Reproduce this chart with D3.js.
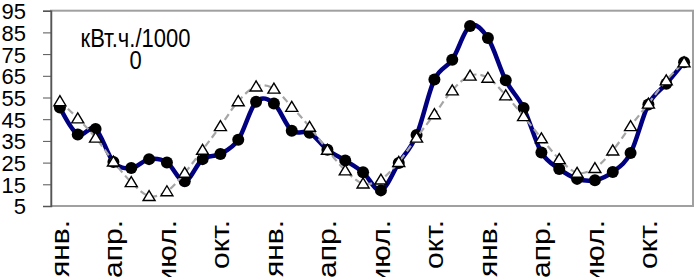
<!DOCTYPE html>
<html>
<head>
<meta charset="utf-8">
<script src="https://cdn.jsdelivr.net/npm/d3@7"></script>
<style>
  body { margin: 0; background: #fff; }
  svg { display: block; }
  text { font-family: "Liberation Sans", Arial, sans-serif; fill: #000; }
</style>
</head>
<body>
<svg id="chart" width="696" height="277"></svg>
<script>
// month categories, 3 years
const monthNames = ['янв.','фев.','мар.','апр.','май','июн.','июл.','авг.','сен.','окт.','ноя.','дек.'];
const categories = [].concat(monthNames, monthNames, monthNames);

// actual consumption (circles)
const actual = [50.4, 38, 40.5, 25.3, 22.5, 26.6, 25.1, 16.4, 26.6, 29, 35.5, 53,
                52.2, 39.7, 38.8, 30.9, 26, 20.5, 12.2, 24.8, 37.7, 63.3, 72.4, 88,
                82.4, 62.9, 50.2, 29.7, 22.1, 17.5, 16.9, 20.7, 29.4, 51.8, 61.3, 71.2];

// model (triangles)
const model = [53.3, 45.4, 36.5, 25.5, 16, 9.6, 11.8, 20.3, 30.9, 41.8, 53.3, 60.1,
               59.1, 50.7, 41.5, 30.9, 21.4, 15.4, 17.2, 25.3, 36.5, 47.3, 58.3, 65.1,
               64.1, 56, 46.4, 36.2, 26.6, 20.3, 22.5, 30.6, 41.8, 52.2, 62.9, 71.2];

const yTicks = [5, 15, 25, 35, 45, 55, 65, 75, 85, 95];
const unitLines = ['кВт.ч./1000', '0'];

const plotL = 51, plotR = 693, plotT = 10.7, plotB = 206;
const svg = d3.select('#chart');

const x = d3.scaleBand().domain(d3.range(categories.length)).range([plotL, plotR]);
const cx = i => x(i) + x.bandwidth() / 2;
const y = d3.scaleLinear().domain([5, 95]).range([plotB, plotT]);

// plot area border
svg.append('rect')
  .attr('x', plotL).attr('y', plotT)
  .attr('width', plotR - plotL).attr('height', plotB - plotT)
  .attr('fill', 'none').attr('stroke', '#a0a0a0').attr('stroke-width', 2);

// y axis
const yAxis = svg.append('g')
  .attr('transform', `translate(${plotL},0)`)
  .call(d3.axisLeft(y).tickValues(yTicks).tickSize(8).tickPadding(17));
yAxis.select('.domain').attr('stroke', '#555').attr('stroke-width', 1.5);
yAxis.selectAll('.tick line').attr('stroke', '#555');
yAxis.selectAll('.tick text')
  .style('font-size', '22px')
  .attr('dy', '0.36em');

// x labels every 3 months (picture is stretched a bit vertically)
svg.append('g').selectAll('text')
  .data(categories.map((c, i) => ({c, i})).filter(d => d.i % 3 === 0))
  .join('text')
  .attr('transform', d => `translate(${cx(d.i)},220) rotate(-90) scale(1.2,1)`)
  .attr('text-anchor', 'end')
  .attr('dy', '0.36em')
  .style('font-size', '25px')
  .text(d => d.c);

// unit text
svg.append('g').selectAll('text')
  .data(unitLines)
  .join('text')
  .attr('transform', (d, i) => `translate(135.5,${46.5 + i * 22}) scale(1,1.15)`)
  .attr('text-anchor', 'middle')
  .style('font-size', '22px')
  .text(d => d);

const line = d3.line()
  .x((d, i) => cx(i))
  .y(d => y(d))
  .curve(d3.curveCardinal.tension(0));

// actual series
svg.append('path')
  .datum(actual)
  .attr('d', line)
  .attr('fill', 'none')
  .attr('stroke', '#000080')
  .attr('stroke-width', 4.5)
  .attr('stroke-linejoin', 'round');

svg.append('g').selectAll('circle')
  .data(actual)
  .join('circle')
  .attr('cx', (d, i) => cx(i))
  .attr('cy', d => y(d))
  .attr('r', 6)
  .attr('fill', '#000');

// model series
svg.append('path')
  .datum(model)
  .attr('d', line)
  .attr('fill', 'none')
  .attr('stroke', '#a6a6a6')
  .attr('stroke-width', 2.2)
  .attr('stroke-dasharray', '7,4');

svg.append('g').selectAll('path')
  .data(model)
  .join('path')
  .attr('d', (d, i) => {
    const px = cx(i), py = y(d);
    return `M${px},${py - 5.5}L${px + 6},${py + 4.5}L${px - 6},${py + 4.5}Z`;
  })
  .attr('fill', '#fff')
  .attr('stroke', '#000')
  .attr('stroke-width', 1.4);
</script>
</body>
</html>
